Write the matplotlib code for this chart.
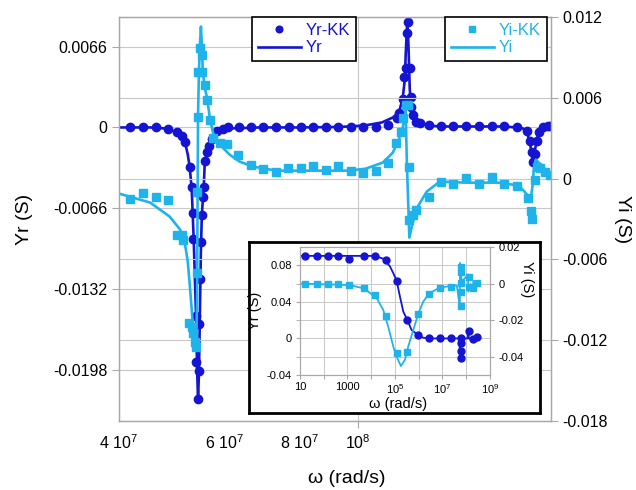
import matplotlib
matplotlib.use('Agg')
import matplotlib.pyplot as plt
import numpy as np
from matplotlib.ticker import FixedLocator, FixedFormatter, NullLocator

plt.rcParams['font.family'] = ['Liberation Sans', 'DejaVu Sans']
plt.rcParams['mathtext.fontset'] = 'custom'
plt.rcParams['mathtext.rm'] = 'Liberation Sans'
plt.rcParams['mathtext.default'] = 'rm'

DARK = '#1414d2'
LIGHT = '#1eb4eb'
GRID = '#c8c8c8'
SPINE = '#a8a8a8'

# ---- main plot data (omega in rad/s, admittance in mS) ----
yr_line_w = [4.00e7, 4.51e7, 4.77e7, 4.96e7, 5.08e7, 5.15e7, 5.21e7, 5.25e7, 5.29e7, 5.33e7,
             5.38e7, 5.40e7, 5.42e7, 5.44e7, 5.46e7, 5.48e7, 5.50e7, 5.54e7, 5.56e7, 5.61e7,
             5.67e7, 5.76e7, 5.89e7, 6.12e7, 6.87e7, 8.01e7, 9.34e7, 1.028e8, 1.098e8, 1.145e8,
             1.172e8, 1.189e8, 1.199e8, 1.203e8, 1.210e8, 1.215e8, 1.219e8, 1.222e8, 1.227e8, 1.236e8,
             1.250e8, 1.270e8, 1.314e8, 1.376e8, 1.515e8, 1.753e8, 1.842e8, 1.886e8, 1.914e8, 1.937e8,
             1.952e8, 1.959e8, 1.967e8, 1.975e8, 1.990e8, 2.005e8, 2.036e8, 2.099e8]
yr_line = [0, 0, -0.08, -0.33, -0.65, -1.14, -2.20, -3.26, -5.05, -9.13,
           -15.64, -19.72, -22.33, -19.88, -14.83, -9.94, -7.09, -4.89, -3.01, -1.96,
           -1.22, -0.65, -0.24, -0.08, 0, 0, 0.04, 0.16, 0.41, 0.81,
           1.22, 2.36, 3.91, 5.95, 8.64, 7.17, 4.89, 3.10, 1.96, 0.98,
           0.49, 0.33, 0.16, 0.08, 0.08, 0.08, 0, -0.08, -0.33, -1.14,
           -2.20, -2.85, -2.61, -1.96, -0.98, -0.41, 0, 0.08]

yr_kk_w = [4.17e7, 4.39e7, 4.61e7, 4.83e7, 5.00e7, 5.10e7, 5.15e7, 5.25e7, 5.29e7, 5.31e7,
           5.31e7, 5.38e7, 5.38e7, 5.42e7, 5.44e7, 5.44e7, 5.46e7, 5.48e7, 5.50e7, 5.52e7,
           5.54e7, 5.56e7, 5.61e7, 5.65e7, 5.72e7, 5.83e7, 5.96e7, 6.08e7, 6.34e7, 6.64e7,
           6.95e7, 7.30e7, 7.68e7, 8.04e7, 8.42e7, 8.85e7, 9.27e7, 9.74e7, 1.020e8, 1.072e8,
           1.123e8, 1.162e8, 1.172e8, 1.189e8, 1.194e8, 1.203e8, 1.208e8, 1.213e8, 1.222e8, 1.227e8,
           1.227e8, 1.236e8, 1.250e8, 1.270e8, 1.314e8, 1.376e8, 1.441e8, 1.515e8, 1.592e8, 1.674e8,
           1.753e8, 1.842e8, 1.914e8, 1.937e8, 1.952e8, 1.959e8, 1.975e8, 1.990e8, 2.005e8, 2.036e8,
           2.075e8, 2.091e8]
yr_kk = [0, 0, 0, -0.16, -0.41, -0.73, -1.22, -3.26, -4.89, -7.01,
         -9.13, -15.40, -19.15, -22.17, -19.88, -16.05, -12.38, -9.37, -7.17, -5.70,
         -4.89, -2.77, -2.04, -1.55, -0.98, -0.33, -0.16, 0, 0, 0,
         0, 0, 0, 0, 0, 0, 0, 0, 0, 0,
         0.24, 0.81, 1.22, 2.36, 4.16, 4.89, 7.74, 8.64, 4.89, 2.53,
         1.71, 0.98, 0.41, 0.33, 0.16, 0.08, 0.08, 0.08, 0.08, 0.08,
         0.08, 0, -0.33, -1.14, -2.04, -2.85, -2.20, -1.14, -0.41, 0,
         0.08, 0.08]

yi_line_w = [4.00e7, 4.51e7, 4.86e7, 5.06e7, 5.15e7, 5.21e7, 5.25e7, 5.29e7, 5.33e7, 5.38e7,
             5.40e7, 5.41e7, 5.42e7, 5.44e7, 5.46e7, 5.48e7, 5.50e7, 5.52e7, 5.56e7, 5.61e7,
             5.67e7, 5.74e7, 5.89e7, 6.12e7, 6.36e7, 6.69e7, 7.33e7, 8.01e7, 8.65e7, 9.67e7,
             1.032e8, 1.102e8, 1.145e8, 1.172e8, 1.189e8, 1.199e8, 1.203e8, 1.208e8, 1.220e8, 1.236e8,
             1.260e8, 1.304e8, 1.371e8, 1.515e8, 1.719e8, 1.814e8, 1.857e8, 1.886e8, 1.922e8, 1.944e8,
             1.959e8, 1.967e8, 1.982e8, 1.998e8, 2.036e8, 2.091e8]
yi_line = [-1.11, -1.78, -2.82, -3.79, -4.75, -6.16, -7.87, -9.73, -11.73, -12.70,
           -8.99, -1.56, 4.75, 8.09, 9.95, 11.29, 9.95, 7.95, 6.76, 6.02,
           4.53, 3.42, 2.52, 1.78, 1.26, 0.89, 0.59, 0.59, 0.59, 0.59,
           0.74, 1.19, 1.93, 2.90, 3.79, 4.60, 5.05, 1.41, -4.38, -3.27,
           -2.08, -0.97, -0.22, -0.30, -0.30, -0.45, -0.59, -0.82, -1.26, -1.56,
           -0.45, 0.67, 1.41, 1.26, 0.89, 0.37]

yi_kk_w = [4.17e7, 4.39e7, 4.61e7, 4.83e7, 5.00e7, 5.10e7, 5.12e7, 5.23e7, 5.29e7, 5.31e7,
           5.36e7, 5.38e7, 5.40e7, 5.40e7, 5.42e7, 5.42e7, 5.46e7, 5.50e7, 5.50e7, 5.56e7,
           5.61e7, 5.67e7, 5.74e7, 5.89e7, 6.05e7, 6.32e7, 6.64e7, 6.95e7, 7.30e7, 7.65e7,
           8.04e7, 8.42e7, 8.85e7, 9.27e7, 9.74e7, 1.020e8, 1.072e8, 1.123e8, 1.158e8, 1.180e8,
           1.189e8, 1.203e8, 1.213e8, 1.217e8, 1.217e8, 1.236e8, 1.250e8, 1.314e8, 1.376e8, 1.441e8,
           1.515e8, 1.592e8, 1.674e8, 1.753e8, 1.842e8, 1.922e8, 1.944e8, 1.952e8, 1.975e8, 1.990e8,
           2.012e8, 2.052e8, 2.091e8]
yi_kk = [-1.49, -1.04, -1.34, -1.56, -4.16, -4.16, -4.53, -10.69, -10.99, -11.44,
         -12.10, -12.48, -6.98, -0.97, 4.60, 7.95, 9.73, 9.21, 7.95, 6.98,
         5.87, 4.38, 3.04, 2.67, 2.60, 1.78, 1.04, 0.74, 0.52, 0.82,
         0.82, 0.97, 0.67, 0.97, 0.59, 0.45, 0.59, 1.19, 2.67, 3.49,
         4.53, 5.50, 5.50, 0.89, -3.04, -2.67, -2.30, -1.34, -0.22, -0.37,
         0.07, -0.37, 0.15, -0.37, -0.52, -1.41, -2.38, -2.97, -0.07, 0.89,
         0.82, 0.52, 0.30]

# ---- inset data (omega in rad/s, admittance in S) ----
in_yr_line_w = [10, 1.4e4, 3.4e4, 6.2e4, 8.5e4, 1.17e5, 1.62e5, 2.24e5, 3.3e5, 5.0e5,
                9.5e5, 1.55e6, 2.8e6, 5.2e7, 5.42e7, 5.6e7, 1.15e8, 1.21e8, 1.3e8, 1.96e8,
                2.1e8, 3.2e8]
in_yr_line = [0.0903, 0.0903, 0.0870, 0.0786, 0.0713, 0.0632, 0.0457, 0.0293, 0.0202, 0.0092,
              0.0037, 0.0008, 0.0, 0.0, -0.0223, 0.0, 0.0, 0.0088, 0.0, -0.0028,
              0.0, 0.0012]
in_yr_kk_w = [16, 50, 148, 407, 1200, 4900, 1.45e4, 4.2e4, 1.17e5, 3.3e5,
              9.5e5, 2.75e6, 7.8e6, 2.24e7, 5.9e7, 5.9e7, 5.9e7, 5.9e7, 1.32e8, 1.86e8,
              2.75e8]
in_yr_kk = [0.0903, 0.0903, 0.0903, 0.0903, 0.0867, 0.0903, 0.0903, 0.0859, 0.0632, 0.0202,
            0.0037, 0.0, 0.0, 0.0, 0.0, -0.0054, -0.0138, -0.0218, 0.0084, -0.0010,
            0.0012]

in_yi_line_w = [10, 1200, 4900, 1.7e4, 3.2e4, 5.2e4, 8.5e4, 1.17e5, 1.78e5, 2.6e5,
                3.6e5, 5.9e5, 9.5e5, 1.55e6, 2.75e6, 7.8e6, 2.24e7, 4.0e7, 5.38e7, 5.48e7,
                6.5e7, 1.2e8, 1.22e8, 1.5e8, 1.94e8, 1.98e8, 3.2e8]
in_yi_line = [0.0, -0.0008, -0.0026, -0.0080, -0.0144, -0.0236, -0.0345, -0.0400, -0.0451, -0.0418,
              -0.0345, -0.0254, -0.0166, -0.0099, -0.0053, -0.0022, -0.0013, -0.0011, -0.0127, 0.0113,
              0.0010, 0.0050, -0.0044, -0.0003, -0.0016, 0.0014, 0.0]
in_yi_kk_w = [16, 50, 148, 407, 1200, 4900, 1.45e4, 4.2e4, 1.17e5, 3.3e5,
              9.5e5, 2.75e6, 7.8e6, 2.24e7, 5.9e7, 5.9e7, 5.9e7, 5.9e7, 5.9e7, 1.32e8,
              1.32e8, 1.86e8, 2.75e8]
in_yi_kk = [0.0, 0.0, 0.0, 0.0, -0.0008, -0.0026, -0.0062, -0.0177, -0.0381, -0.0372,
            -0.0166, -0.0057, -0.0022, -0.0017, 0.0092, 0.0064, 0.0005, -0.0048, -0.0123, 0.0038,
            -0.0017, -0.0026, 0.0005]

yr_ticks = [-0.0198, -0.0132, -0.0066, 0, 0.0066]
yr_ticklabels = ['-0.0198', '-0.0132', '-0.0066', '0', '0.0066']
yi_ticks = [-0.018, -0.012, -0.006, 0, 0.006, 0.012]
yi_ticklabels = ['-0.018', '-0.012', '-0.006', '0', '0.006', '0.012']
x_major = [1e8]
x_major_labels = ['10$^{8}$']
x_minor = [4e7, 6e7, 8e7]
x_minor_labels = ['4 10$^{7}$', '6 10$^{7}$', '8 10$^{7}$']

fig = plt.figure(figsize=(6.36, 4.9), dpi=100)
ax = fig.add_axes([0.187, 0.1408, 0.679, 0.8245])
ax2 = ax.twinx()

ms = 1e-3
ax.plot(yr_line_w, np.array(yr_line) * ms, '-', color=DARK, lw=1.9, label='Yr')
ax.plot(yr_kk_w, np.array(yr_kk) * ms, 'o', color=DARK, ms=6, label='Yr-KK')
ax2.plot(yi_line_w, np.array(yi_line) * ms, '-', color=LIGHT, lw=1.9, label='Yi')
ax2.plot(yi_kk_w, np.array(yi_kk) * ms, 's', color=LIGHT, ms=6, label='Yi-KK')

ax.set_xscale('log')
ax.set_xlim(4e7, 2.1e8)
ax.set_ylim(-0.024, 0.00903)
ax2.set_ylim(-0.018, 0.012)

ax.xaxis.set_major_locator(FixedLocator(x_major))
ax.xaxis.set_major_formatter(FixedFormatter(x_major_labels))
ax.xaxis.set_minor_locator(FixedLocator(x_minor))
ax.xaxis.set_minor_formatter(FixedFormatter(x_minor_labels))
ax.set_yticks(yr_ticks)
ax.set_yticklabels(yr_ticklabels)
ax2.set_yticks(yi_ticks)
ax2.set_yticklabels(yi_ticklabels)

ax.tick_params(axis='x', which='major', length=5, color=SPINE, pad=4, labelsize=11.5)
ax.tick_params(axis='x', which='minor', length=0, pad=9, labelsize=11.5)
ax.tick_params(axis='y', length=5, color=SPINE, pad=3.5, labelsize=11.5)
ax2.tick_params(axis='y', length=5, color=SPINE, pad=3.5, labelsize=11.5)

ax.grid(axis='y', color=GRID, lw=0.8)
ax.grid(axis='x', which='major', color=GRID, lw=0.8)
ax2.grid(axis='y', color=GRID, lw=0.8)
ax.set_axisbelow(True)
ax2.set_axisbelow(True)
for a in (ax, ax2):
    for s in a.spines.values():
        s.set_color(SPINE)
        s.set_linewidth(0.9)

ax.set_xlabel('ω (rad/s)', fontsize=14)
ax.xaxis.set_label_coords(0.528, -0.121)
ax.set_ylabel('Yr (S)', fontsize=14)
ax.yaxis.set_label_coords(-0.2, 0.5)
ax2.set_ylabel('Yi (S)', fontsize=14, rotation=-90, va='center')
ax2.yaxis.set_label_coords(1.165, 0.5)

h1, l1 = ax.get_legend_handles_labels()
leg1 = ax2.legend([h1[1], h1[0]], [l1[1], l1[0]], loc='upper left', bbox_to_anchor=(0.308, 1.0),
                  borderaxespad=0, fontsize=12, fancybox=False, framealpha=1, edgecolor='black',
                  handlelength=2.6, handletextpad=0.3, labelspacing=0.15, borderpad=0.35,
                  labelcolor='linecolor', markerscale=0.8)
leg1.get_frame().set_linewidth(1.2)
ax2.add_artist(leg1)
h2, l2 = ax2.get_legend_handles_labels()
leg2 = ax2.legend([h2[1], h2[0]], [l2[1], l2[0]], loc='upper right', bbox_to_anchor=(0.991, 1.0),
                  borderaxespad=0, fontsize=12, fancybox=False, framealpha=1, edgecolor='black',
                  handlelength=2.6, handletextpad=0.3, labelspacing=0.15, borderpad=0.35,
                  labelcolor='linecolor', markerscale=0.8)
leg2.get_frame().set_linewidth(1.2)

# ---- inset frame ----
frame = fig.add_axes([0.3915, 0.1571, 0.4575, 0.349])
frame.set_xticks([])
frame.set_yticks([])
frame.set_facecolor('white')
for s in frame.spines.values():
    s.set_color('black')
    s.set_linewidth(2)

ins = fig.add_axes([0.4717, 0.2347, 0.2987, 0.2612])
ins2 = ins.twinx()
ins.plot(in_yr_line_w, in_yr_line, '-', color=DARK, lw=1.3)
ins.plot(in_yr_kk_w, in_yr_kk, 'o', color=DARK, ms=5)
ins2.plot(in_yi_line_w, in_yi_line, '-', color=LIGHT, lw=1.3)
ins2.plot(in_yi_kk_w, in_yi_kk, 's', color=LIGHT, ms=5)

ins.set_xscale('log')
ins.set_xlim(10, 1e9)
ins.set_ylim(-0.04, 0.1)
ins2.set_ylim(-0.05, 0.02)
ins_x = [1e1, 1e2, 1e3, 1e4, 1e5, 1e6, 1e7, 1e8, 1e9]
ins_x_labels = ['10', '', '1000', '', '10$^{5}$', '', '10$^{7}$', '', '10$^{9}$']
ins.xaxis.set_major_locator(FixedLocator(ins_x))
ins.xaxis.set_major_formatter(FixedFormatter(ins_x_labels))
ins.xaxis.set_minor_locator(NullLocator())
ins.set_yticks([-0.04, 0, 0.04, 0.08])
ins.set_yticklabels(['-0.04', '0', '0.04', '0.08'])
ins.set_yticks([-0.02, 0.02, 0.06], minor=True)
ins2.set_yticks([-0.04, -0.02, 0, 0.02])
ins2.set_yticklabels(['-0.04', '-0.02', '0', '0.02'])
ins.tick_params(axis='both', which='both', length=3, color=SPINE, pad=3, labelsize=8)
ins.tick_params(axis='x', pad=2)
ins2.tick_params(axis='y', length=3, color=SPINE, pad=3, labelsize=8)
ins.grid(which='both', color=GRID, lw=0.7)
ins.set_axisbelow(True)
for a in (ins, ins2):
    for s in a.spines.values():
        s.set_color(SPINE)
        s.set_linewidth(0.8)

ins.set_xlabel('ω (rad/s)', fontsize=10.5)
ins.xaxis.set_label_coords(0.515, -0.175)
ins.set_ylabel('Yr (S)', fontsize=10.5)
ins.yaxis.set_label_coords(-0.2, 0.5)
ins2.set_ylabel('Yi (S)', fontsize=10.5, rotation=-90, va='center')
ins2.yaxis.set_label_coords(1.195, 0.75)

fig.savefig('out.png', dpi=100, facecolor='white')
